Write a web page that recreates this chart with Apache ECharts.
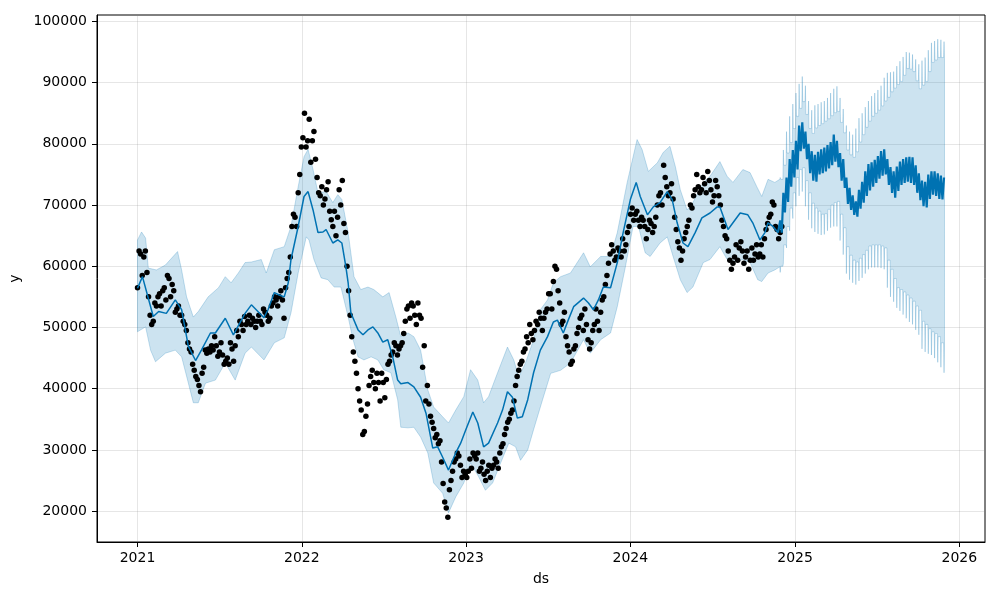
<!DOCTYPE html>
<html><head><meta charset="utf-8">
<script src="https://cdn.jsdelivr.net/npm/echarts@6/dist/echarts.min.js"></script>
<style>html,body{margin:0;padding:0;background:#fff}#c{width:1000px;height:600px}</style>
</head><body><div id="c"></div>
<script>
// x values are days since 2021-01-01
const obsStepDays = 7;
// observed values read at the start of each week
const obsValues = [56500,62000,61500,59000,52000,51000,53500,55500,56000,54500,
 58000,57000,52500,53500,52000,50500,47500,46000,43000,41500,
 39500,43500,45800,46000,46300,47000,46000,45500,44500,44000,
 46500,47000,48500,50500,51800,51000,50500,51000,51000,51000,
 53000,52000,51500,54000,54500,55000,54500,56500,59000,66500,
 68000,72000,79500,85000,80500,77000,82000,74500,71500,70000,
 72500,69000,66500,65000,72500,74000,65500,56000,48500,44500,
 40000,36500,33000,37500,42000,41000,42500,38000,41000,41500,
 44500,46000,47000,46500,47500,51000,53500,54000,52000,54000,
 51500,47000,40500,35500,33500,32500,31500,24500,20500,23500,
 26500,28500,29000,25500,26000,26500,27000,29000,29500,27000,
 26000,26500,25500,27500,28000,29500,31000,33500,35000,36500,
 40500,43000,44500,46500,47500,49000,49500,50500,51500,51500,
 53000,55500,57500,59500,54000,51000,48500,46000,44500,47000,
 50000,52000,53000,48000,47500,50500,51000,52500,55000,58500,
 62000,62500,61500,62500,64500,63500,66500,69500,68500,67500,
 68000,66500,66000,67000,66500,70000,72000,76500,73000,72000,
 71000,66000,63000,62500,65500,67500,69500,72500,73000,72500,
 73500,75500,72500,71500,73000,70000,66500,64500,61000,60500,
 63500,63000,62500,61500,59500,63000,62000,61500,63500,64500,
 67000,68500,70000,66000,65500];
// observed values read at the middle of each week
const obsMidValues = [62500,58500,62500,55000,50500,54000,55000,53500,56500,58500,
 55000,56000,53000,52000,51000,49500,46500,44000,42000,40500,
 42500,46300,46500,47000,48500,45300,47500,44000,45000,47500,
 44500,49500,51000,49500,50500,52000,51500,50000,52000,50500,
 52500,51000,53500,55000,53500,56000,51500,58000,61500,68500,
 66500,75000,81000,79500,84000,80500,77500,72000,73000,71000,
 73800,67600,69000,68000,70000,67000,60000,52000,46000,42500,
 38000,32500,35500,40500,43000,40000,41000,42500,38500,44000,
 45500,47500,45500,47000,49000,53000,51500,53500,50500,52000,
 43500,38000,37500,34500,32000,31000,28000,21500,19000,25000,
 28000,29500,27500,26500,25500,28500,29500,28500,26500,28000,
 25000,27500,27000,28500,27000,30500,32500,34500,36000,38000,
 42000,44000,46000,48500,50500,48000,51000,52500,49500,52500,
 55500,53000,60000,56000,50500,52500,47000,44000,46500,49000,
 51500,49500,50500,46500,49500,53000,49500,54500,57000,60500,
 63500,61000,63000,61500,62500,65500,68500,67500,69000,66500,
 67500,64500,67500,65500,68000,71500,70000,74500,71500,73500,
 68000,64000,61000,64500,66500,70000,71500,75000,72000,74500,
 72000,74000,70500,74000,71500,67500,65000,62500,59500,61500,
 61000,64000,60500,62500,61000,61000,63500,62000,61500,66000,
 68000,70500,66500,64500,66500];

const fitDays = [0,11,35,47,64,84,98,113,129,142,162,173,195,213,239,253,281,290,304,315,
 326,335,341,357,370,379,390,401,412,419,434,445,454,463,468,474,490,501,512,523,
 534,545,556,567,578,585,601,614,629,641,656,667,678,691,707,718,729,745,756,769,
 780,800,811,822,833,844,855,867,880,895,911,924,933,946,957,969,991,1002,1013,1024,
 1035,1051,1066,1079,1095,1108,1117,1133,1146,1161,1177,1188,1199,1212,1223,1239,1254,1272,1288,1294,
 1312,1323,1339,1356,1367,1383,1394,1401,1412,1423];
const fitValues = [56400,58300,51800,52600,52300,54500,52900,46900,44600,46300,
 49100,49100,51500,48800,52300,53700,51600,52900,55700,55300,
 55000,57300,61100,66500,71400,72200,69200,65500,65600,66000,
 63800,64300,63800,59900,57300,52400,49600,48800,49600,50100,
 49100,47600,48000,45200,41400,40800,41000,40300,38600,36000,
 30300,30500,28800,26700,29500,31100,33200,36200,34400,30500,
 31100,34400,36500,39500,38600,35200,35400,38200,42600,46300,
 48500,50900,51200,49100,51200,53400,54800,54000,52900,54500,
 56600,56500,60600,65500,70900,73700,71400,68400,69700,70400,
 72200,70900,67100,63800,63200,65500,67900,68700,69700,69700,
 66000,67100,68700,68400,67100,64300,65500,67100,66500,65500];

const upperDays = [0,9,18,24,42,62,73,89,98,109,124,135,157,180,195,208,224,239,253,275,
 286,304,326,341,357,370,379,390,401,419,434,445,454,468,481,496,512,525,545,559,
 574,585,601,614,629,645,658,678,691,707,725,740,756,769,780,800,822,836,847,862,
 880,895,911,924,940,962,991,1006,1029,1051,1066,1088,1110,1121,1135,1155,1168,1183,1195,1206,
 1221,1234,1257,1272,1294,1310,1323,1345,1361,1376,1387,1401,1416,1427];
const upperValues = [64300,65600,64600,59700,59400,60200,61100,62400,59400,55000,
 51700,52600,55000,56500,58300,57300,58900,60600,60700,61100,
 58900,62700,63200,66500,73000,77900,79100,75800,72000,72200,
 70400,71700,70900,65500,58300,56200,56600,56200,55000,55700,
 51700,48500,49100,48500,46300,39800,37000,35400,34400,36500,
 38700,43100,41400,37700,38700,42600,46800,44700,41900,44200,
 48000,52900,54500,57300,58300,58900,62200,59900,61600,61600,
 65500,73700,80700,79100,75500,76900,78600,79600,76300,72500,
 69200,70400,73700,74700,77100,74700,73700,75800,75300,73000,
 71400,74200,73700,74200];

const lowerDays = [0,18,29,40,62,84,98,113,124,135,151,173,195,217,239,253,281,304,326,341,
 357,375,381,392,408,423,437,452,468,479,490,503,519,534,547,563,578,585,601,614,
 629,645,658,678,691,707,725,740,758,773,789,807,825,840,851,867,880,900,918,940,
 962,991,1006,1029,1051,1066,1084,1101,1113,1128,1139,1161,1177,1190,1206,1221,1234,1257,1272,1294,
 1310,1323,1345,1361,1378,1387,1401,1416,1427];
const lowerValues = [49300,50100,46300,44400,45800,46300,45200,40900,37700,37700,
 40900,41400,44200,41400,45800,46800,44700,47500,48300,52400,
 58900,64800,64300,61100,58100,57800,56600,56600,51700,48000,
 45200,44700,45200,44700,43100,42600,38200,33700,33600,33700,
 32100,29500,24600,22900,19700,22300,24600,27900,25600,23400,
 24600,27900,31100,30500,28300,30000,33300,38200,42500,43000,
 44200,48000,45800,48000,49100,53400,59900,66500,66500,62200,
 61600,63800,64800,61600,57800,55700,56600,60600,61100,63200,
 61100,60600,61100,60600,57800,57500,58900,59400,59900];

// forecast period, weekly envelopes
const fcStartDay = 1428;
const fcEndDay = 1793;
const fcStepDays = 7;
const fcHigh = [67500,72000,74500,77500,79000,80500,83000,83500,82000,80000,
 78800,78200,78700,79100,79400,79800,80300,81500,80500,78500,
 77500,74500,72800,71600,70600,72500,73800,75500,76700,77000,
 77400,78000,78800,79100,77500,76200,75500,76300,77100,77500,
 77800,77900,77800,76500,75200,74000,73800,75000,75500,75500,
 75200,74800,74500];
const fcLow = [65500,68800,70500,73000,74500,75800,78800,79200,77500,75200,
 74000,73800,75000,75200,75500,76000,76500,77100,76200,74000,
 72800,70200,69200,68400,68100,69400,70400,71500,72400,73000,
 73600,74300,74800,75000,73300,72000,71200,72300,73300,73600,
 73800,73600,73300,72000,70800,69800,69600,71000,71700,71500,
 71000,70900,70900];
const fcUpperOuter = [74500,79000,82000,84500,86500,88300,89800,91000,89500,87000,
 85500,86300,86500,86800,87000,87500,88300,89000,89400,87500,
 85700,83000,82000,81500,82500,84200,85000,86000,87000,87800,
 88300,88800,89500,90800,91600,91700,91800,92700,93500,94200,
 95000,94900,94600,93800,93000,93600,94100,95300,96500,96800,
 97100,97000,96700];
const fcUpperInner = [74200,76500,78500,80200,82500,84500,85800,86900,84800,82500,
 81700,82600,83000,83300,83700,84100,84600,85100,85300,83500,
 81800,79000,78200,77800,78700,80300,81500,82700,83700,84500,
 85000,85500,86200,87000,87600,88500,89100,89700,90200,91200,
 92300,92200,91800,90300,89000,89600,90200,91800,93300,93700,
 94100,94100,94000];
const fcLowerInner = [60000,63500,66500,69500,72000,74500,75800,76100,74000,72000,
 70300,69500,69000,68500,68600,69300,70000,70400,70600,68500,
 66300,63200,61800,61000,60700,61300,61900,62600,63300,63500,
 63500,63500,63300,63000,61000,59500,58000,56500,56200,55800,
 55300,54800,54300,53500,52800,51000,50500,49800,49300,49000,
 48500,47500,46700];
const fcLowerOuter = [59000,60500,63000,65800,67800,69800,71500,72200,69800,67600,
 66200,65600,65300,65100,65200,65800,66300,66500,66500,64200,
 61900,58800,57800,57300,57000,57600,58100,58800,59500,59800,
 59800,59800,59700,59500,56500,55000,54200,53200,52700,52100,
 51500,50900,50500,49600,48800,46500,46000,45700,45500,45000,
 44300,43500,42600];

const xTickDays = [0,365,730,1095,1461,1826];
const xTickLabels = ['2021','2022','2023','2024','2025','2026'];
const yTicks = [20000,30000,40000,50000,60000,70000,80000,90000,100000];

// ---- build series data ----
const obsData = [];
obsValues.forEach((v,i)=>{
  obsData.push([i*obsStepDays, v]);
  obsData.push([i*obsStepDays + obsStepDays/2, obsMidValues[i]]);
});
const fitData = fitDays.map((d,i)=>[d, fitValues[i]]);
const fcData = [fitData[fitData.length-1]];
fcHigh.forEach((v,j)=>{
  const d = fcStartDay + j*fcStepDays;
  if (d <= fcEndDay) fcData.push([d, v]);
  if (d+3.5 <= fcEndDay) fcData.push([d+3.5, fcLow[j]]);
});
const upperPath = upperDays.map((d,i)=>[d, upperValues[i]]);
const lowerPath = lowerDays.map((d,i)=>[d, lowerValues[i]]);
fcUpperInner.forEach((v,j)=>{
  const d = fcStartDay + j*fcStepDays;
  [[d, fcUpperOuter[j]],[d+1, v],[d+6, v]].forEach(p=>{ if (p[0] <= fcEndDay) upperPath.push(p); });
  [[d, fcLowerOuter[j]],[d+1, fcLowerInner[j]],[d+6, fcLowerInner[j]]].forEach(p=>{ if (p[0] <= fcEndDay) lowerPath.push(p); });
});
const bandPoly = upperPath.concat(lowerPath.slice().reverse());

const font = 'DejaVu Sans';
const chart = echarts.init(document.getElementById('c'), null, {renderer:'canvas', width:1000, height:600});
chart.setOption({
  animation: false,
  backgroundColor: '#ffffff',
  grid: {left:97, right:15, top:15, bottom:58, show:true, borderColor:'#000', borderWidth:1, backgroundColor:'rgba(0,0,0,0)', containLabel:false, outerBoundsMode:'none'},
  xAxis: {
    type:'value', min:-90, max:1883,
    name:'ds', nameLocation:'middle', nameGap:30,
    nameTextStyle:{color:'#000', fontFamily:font, fontSize:14},
    axisLine:{show:true, onZero:false, lineStyle:{color:'#000', width:1}},
    axisTick:{show:true, length:5, lineStyle:{color:'#000', width:1}, customValues:xTickDays},
    axisLabel:{customValues:xTickDays, formatter:(v)=>xTickLabels[xTickDays.indexOf(Math.round(v))], color:'#000', fontFamily:font, fontSize:14, margin:9},
    splitLine:{show:true, lineStyle:{color:'rgba(128,128,128,0.2)', width:1}}
  },
  yAxis: {
    type:'value', min:14950, max:101050,
    name:'y', nameLocation:'middle', nameGap:60, nameRotate:90,
    nameTextStyle:{color:'#000', fontFamily:font, fontSize:14},
    axisLine:{show:true, onZero:false, lineStyle:{color:'#000', width:1}},
    axisTick:{show:true, length:5, lineStyle:{color:'#000', width:1}, customValues:yTicks},
    axisLabel:{customValues:yTicks, formatter:(v)=>String(Math.round(v)), color:'#000', fontFamily:font, fontSize:14, margin:10},
    splitLine:{show:true, lineStyle:{color:'rgba(128,128,128,0.2)', width:1}}
  },
  series: [
    {
      type:'custom', coordinateSystem:'cartesian2d', silent:true, z:1,
      data:[[0, 50000]],
      renderItem:(params, api)=>({
        type:'polygon',
        shape:{points: bandPoly.map(p=>api.coord(p))},
        style:{fill:'rgba(0,114,178,0.2)', stroke:'rgba(0,114,178,0.22)', lineWidth:1}
      })
    },
    {
      type:'scatter', data:obsData, symbolSize:5.5, z:2, silent:true,
      itemStyle:{color:'#000', opacity:1}
    },
    {
      type:'line', data:fitData, showSymbol:false, symbol:'none', z:3, silent:true,
      lineStyle:{color:'#0072B2', width:1.5}
    },
    {
      type:'line', data:fcData, showSymbol:false, symbol:'none', z:3, silent:true,
      lineStyle:{color:'#0072B2', width:2.2}
    }
  ]
});
</script></body></html>
